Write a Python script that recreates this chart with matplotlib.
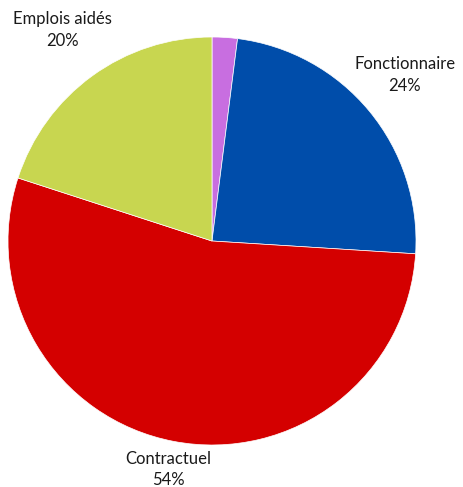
import matplotlib.pyplot as plt

plt.rcParams["font.family"] = ["Lato", "DejaVu Sans"]

labels = ["Autre", "Fonctionnaire", "Contractuel", "Emplois aidés"]
values = [2, 24, 54, 20]
shown = [False, True, True, True]
colors = ["#C86EE0", "#004DAA", "#D40000", "#C8D650"]
label_pos = [None, (0.946, 0.814), (-0.216, -1.12), (-0.735, 1.034)]

W, H = 464, 487
fig = plt.figure(figsize=(W / 100, H / 100), dpi=100)
cx, cy, r = 212, 241, 204
ax = fig.add_axes([(cx - r) / W, (H - cy - r) / H, 2 * r / W, 2 * r / H])

ax.pie(values, colors=colors, startangle=90, counterclock=False, radius=1,
       wedgeprops=dict(linewidth=0.5, edgecolor="white"))
ax.set_xlim(-1, 1)
ax.set_ylim(-1, 1)
ax.set_aspect("equal")

total = sum(values)
for lab, v, s, pos in zip(labels, values, shown, label_pos):
    if not s:
        continue
    ax.text(pos[0], pos[1], f"{lab}\n{round(100 * v / total)}%", ha="center", va="center",
            fontsize=12, color="#1a1a1a", linespacing=1.45, clip_on=False)

fig.savefig("out.png", dpi=100)
